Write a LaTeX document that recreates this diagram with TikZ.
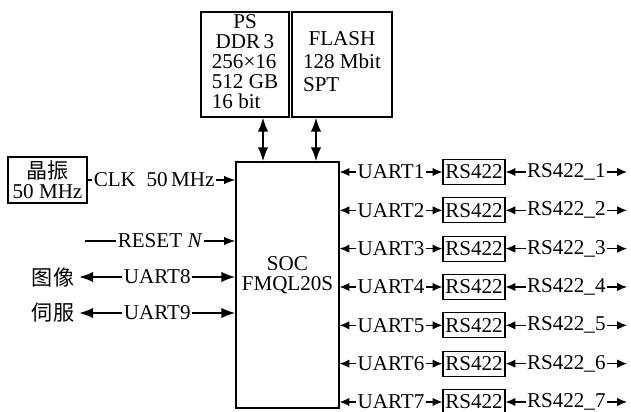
\documentclass[tikz,border=0pt]{standalone}
\usepackage{fontspec}
\setmainfont{Liberation Serif}
\newfontfamily\cjk{Noto Sans CJK SC}
\usetikzlibrary{positioning,arrows.meta,calc}

\begin{document}
\begin{tikzpicture}[
  x=0.025cm, y=-0.025cm,
  every node/.style={font=\fontsize{15}{14}\selectfont},
  blk/.style={rectangle, draw, line width=0.9pt, inner sep=0pt},
  bus/.style={line width=1.4pt, {Latex[length=10pt,width=7.5pt]}-{Latex[length=10pt,width=7.5pt]}},
  sig/.style={line width=0.8pt, {Latex[length=7pt,width=6pt]}-{Latex[length=7pt,width=6pt]}},
  one/.style={line width=0.8pt, -{Latex[length=8pt,width=6pt]}},
  lbl/.style={fill=white, inner sep=1pt}
]
  \useasboundingbox (0,0) rectangle (631,412);

  \node[blk, minimum width=2.2cm, minimum height=2.625cm] (ddr) at (245,64.5)
    {\begin{tabular}{@{}l@{}}\multicolumn{1}{@{}c@{}}{PS}\\\multicolumn{1}{@{}c@{}}{DDR\,3}\\256×16\\512 GB\\16 bit\end{tabular}};
  \node[blk, minimum width=2.5cm, minimum height=2.625cm] (flash) at (342,64.5)
    {\begin{tabular}{@{}l@{}}\multicolumn{1}{@{}c@{}}{FLASH}\\[2pt]128 Mbit\\[2pt]SPT\end{tabular}};
  \node[blk, minimum width=2.575cm, minimum height=6.15cm] (soc) at (287.5,285) {};
  \node[align=center] (soctxt) at (287.5,275) {SOC\\FMQL20S};

  \coordinate (ddrp) at ($(ddr.south)+(18,0)$);
  \coordinate (flp) at ($(flash.south)+(-26,0)$);
  \draw[bus] (ddrp) -- (ddrp |- soc.north);
  \draw[bus] (flp) -- (flp |- soc.north);

  \node[blk, minimum width=1.975cm, minimum height=1.15cm, align=center] (osc) at (47.5,180)
    {{\cjk 晶振}\\50 MHz};
  \draw[one] (osc.east) -- node[lbl, pos=0.45]{CLK\enspace 50\,MHz} (osc.east -| soc.west);

  \coordinate (rst) at (85,241);
  \draw[one] (rst) -- node[lbl]{RESET \textit{N}} (rst -| soc.west);

  \node (img) at (53,277) {\cjk 图像};
  \node (servo) at (53,313) {\cjk 伺服};
  \draw[bus] (img.east) -- node[lbl]{UART8} (img.east -| soc.west);
  \draw[bus] (servo.east) -- node[lbl]{UART9} (servo.east -| soc.west);

  \foreach \i in {1,...,7}{
    \pgfmathsetmacro\yy{172+(\i-1)*38.33}
    \node[blk, minimum width=1.55cm, minimum height=0.625cm] (rs\i) at (474,\yy) {RS422};
    \coordinate (out\i) at (627,\yy);
    \draw[sig] (soc.east |- rs\i) -- node[lbl]{UART\i} (rs\i.west);
    \draw[sig] (rs\i.east) -- node[lbl]{RS422\_\i} (out\i);
  }
\end{tikzpicture}
\end{document}
